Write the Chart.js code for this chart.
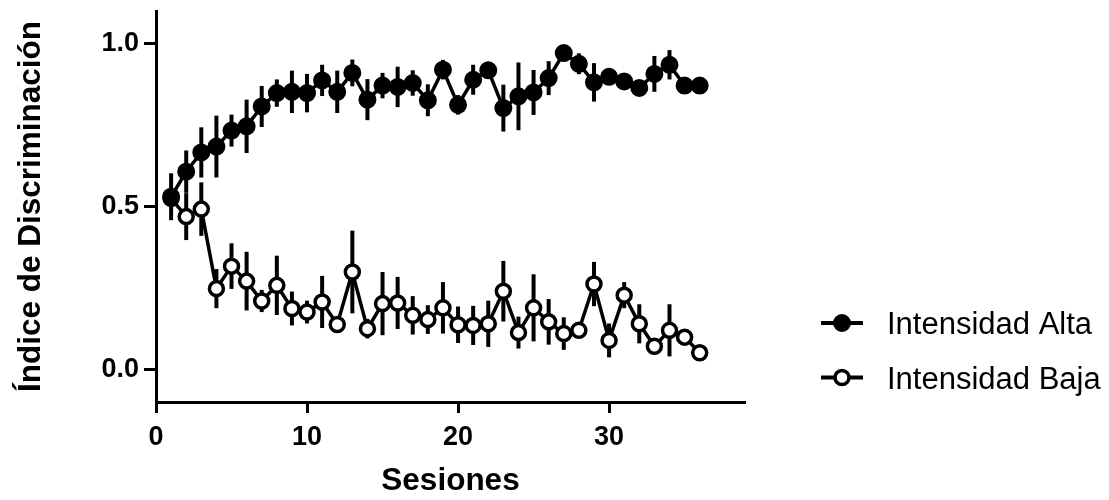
<!DOCTYPE html>
<html><head><meta charset="utf-8">
<script src="https://cdn.jsdelivr.net/npm/chart.js@4/dist/chart.umd.min.js"></script>
<style>html,body{margin:0;padding:0;background:#fff}canvas{display:block}</style>
</head><body>
<canvas id="c" width="1109" height="500"></canvas>
<script>
const sessions = [1,2,3,4,5,6,7,8,9,10,11,12,13,14,15,16,17,18,19,20,21,22,23,24,25,26,27,28,29,30,31,32,33,34,35,36];
const altaMean = [0.530,0.607,0.666,0.684,0.733,0.746,0.807,0.848,0.852,0.848,0.887,0.852,0.910,0.828,0.871,0.867,0.879,0.826,0.920,0.812,0.889,0.918,0.802,0.838,0.850,0.894,0.971,0.938,0.881,0.898,0.884,0.864,0.907,0.935,0.871,0.871];
const altaErr = [0.072,0.065,0.077,0.095,0.049,0.082,0.063,0.042,0.065,0.059,0.048,0.065,0.041,0.063,0.039,0.062,0.039,0.049,0.030,0.030,0.046,0.020,0.072,0.104,0.069,0.052,0.015,0.032,0.059,0.025,0.015,0.010,0.055,0.045,0,0];
const bajaMean = [0.525,0.469,0.492,0.248,0.317,0.271,0.210,0.258,0.187,0.176,0.207,0.138,0.299,0.125,0.202,0.204,0.166,0.153,0.189,0.137,0.135,0.140,0.240,0.113,0.189,0.146,0.110,0.120,0.262,0.089,0.228,0.140,0.071,0.120,0.099,0.051];
const bajaErr = [0,0.072,0.082,0.060,0.070,0.090,0.034,0.091,0.052,0.035,0.080,0.010,0.127,0.030,0.097,0.080,0.059,0.044,0.079,0.056,0.060,0.071,0.093,0.049,0.103,0.070,0.050,0.020,0.068,0.052,0.040,0.060,0,0.080,0,0];
const seriesLabels = ['Intensidad Alta','Intensidad Baja'];
const xTicks = [0,10,20,30];
const yTicks = [0,0.5,1.0];
const yTickLabels = ['0.0','0.5','1.0'];
const xTitle = 'Sesiones';
const yTitle = 'Índice de Discriminación';

const FAM = "'Liberation Sans', Arial, Helvetica, sans-serif";

const errorBars = {
  id:'errorBars',
  beforeDatasetsDraw(chart){
    const {ctx, scales:{x,y}} = chart;
    ctx.save();
    ctx.strokeStyle = '#000';
    ctx.lineWidth = 4;
    ctx.lineCap = 'butt';
    chart.data.datasets.forEach(ds=>{
      ds.data.forEach((p,i)=>{
        const e = ds.err[i];
        if(!e) return;
        const px = x.getPixelForValue(p.x);
        ctx.beginPath();
        ctx.moveTo(px, y.getPixelForValue(p.y+e));
        ctx.lineTo(px, y.getPixelForValue(p.y-e));
        ctx.stroke();
      });
    });
    ctx.restore();
  }
};

const customLegend = {
  id:'customLegend',
  afterDraw(chart){
    const {ctx, chartArea} = chart;
    ctx.save();
    const x0 = chartArea.right + 76, x1 = chartArea.right + 118, xm = chartArea.right + 97;
    const tx = chartArea.right + 142;
    const ys = [323, 377.5];
    chart.data.datasets.forEach((ds,i)=>{
      const yy = ys[i];
      ctx.strokeStyle = '#000';
      ctx.lineWidth = 4;
      ctx.beginPath(); ctx.moveTo(x0,yy); ctx.lineTo(x1,yy); ctx.stroke();
      ctx.beginPath();
      ctx.arc(xm, yy, ds.pointRadius, 0, Math.PI*2);
      ctx.fillStyle = ds.pointBackgroundColor;
      ctx.fill();
      ctx.lineWidth = ds.pointBorderWidth;
      ctx.stroke();
      ctx.fillStyle = '#000';
      ctx.font = '31px ' + FAM;
      ctx.textBaseline = 'alphabetic';
      ctx.textAlign = 'left';
      ctx.fillText(ds.label, tx, yy + 11);
    });
    ctx.restore();
  }
};

const toPts = (m)=>sessions.map((s,i)=>({x:s,y:m[i]}));

new Chart(document.getElementById('c'), {
  type:'line',
  data:{datasets:[
    {label:seriesLabels[0], data:toPts(altaMean), err:altaErr, borderColor:'#000', borderWidth:3.5,
     pointRadius:8, pointBackgroundColor:'#000', pointBorderColor:'#000', pointBorderWidth:2, tension:0, fill:false},
    {label:seriesLabels[1], data:toPts(bajaMean), err:bajaErr, borderColor:'#000', borderWidth:3.5,
     pointRadius:7, pointBackgroundColor:'#fff', pointBorderColor:'#000', pointBorderWidth:3.5, tension:0, fill:false}
  ]},
  options:{
    responsive:false, animation:false, devicePixelRatio:1,
    layout:{padding:{top:11,right:364,left:0,bottom:0}},
    plugins:{legend:{display:false}, tooltip:{enabled:false}},
    scales:{
      x:{type:'linear', min:0, max:39,
        afterFit(s){ s.height = 98; s.paddingLeft = 0; s.paddingRight = 0; },
        afterBuildTicks(s){ s.ticks = xTicks.map(v=>({value:v})); },
        grid:{drawOnChartArea:false, tickLength:11, tickWidth:3, tickColor:'#000', color:'#000'},
        border:{width:3, color:'#000'},
        ticks:{font:{family:FAM, size:27, weight:'bold'}, color:'#000', padding:8, maxRotation:0, autoSkip:false},
        title:{display:true, text:xTitle, font:{family:FAM, size:31.5, weight:'bold'}, color:'#000', padding:{top:0,bottom:0}}
      },
      y:{type:'linear', min:-0.1, max:1.1,
        afterFit(s){ s.width = 156; s.paddingTop = 0; s.paddingBottom = 0; },
        afterBuildTicks(s){ s.ticks = yTicks.map(v=>({value:v})); },
        grid:{drawOnChartArea:false, tickLength:12, tickWidth:3, tickColor:'#000', color:'#000'},
        border:{width:3, color:'#000'},
        ticks:{font:{family:FAM, size:27, weight:'bold'}, color:'#000', padding:5, autoSkip:false,
          callback(v){ const k = yTicks.indexOf(v); return k>=0 ? yTickLabels[k] : ''; }},
        title:{display:true, text:yTitle, font:{family:FAM, size:31.5, weight:'bold'}, color:'#000', padding:{top:12,bottom:0}}
      }
    }
  },
  plugins:[errorBars, customLegend]
});
</script>
</body></html>
